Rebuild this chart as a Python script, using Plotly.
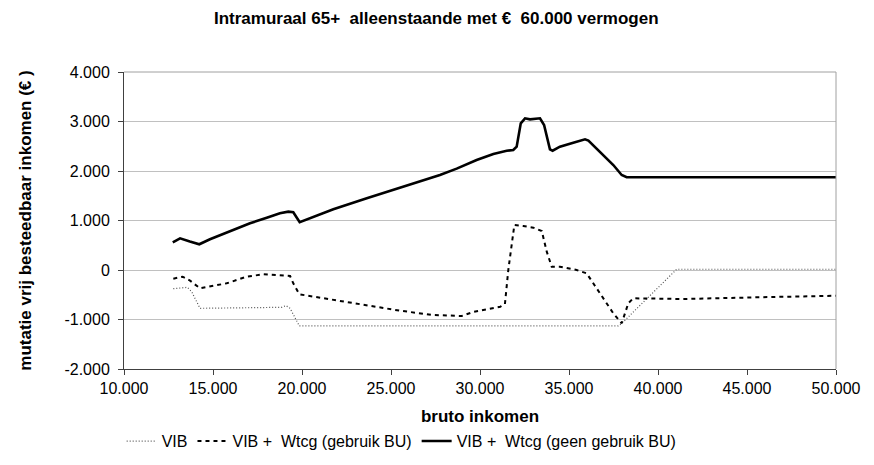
import plotly.graph_objects as go

# --- data ---
vib_x = [12770, 13560, 13800, 14270, 18860, 19100, 19330, 19850, 37770, 37960, 41050, 50000]
vib_y = [-377, -350, -438, -774, -754, -720, -774, -1130, -1130, -1080, 15, 15]

bu_x = [12770, 13300, 13710, 14270, 15770, 16890, 17830, 18580, 19330, 19510, 19850, 25500,
        27380, 28970, 29620, 31140, 31400, 31590, 31930, 32430, 33000, 33470, 33750, 34030,
        34490, 35430, 35990, 36740, 37490, 37960, 38330, 38610, 41420, 45550, 50000]
bu_y = [-175, -135, -215, -370, -269, -135, -87, -101, -121, -269, -491, -822,
        -909, -929, -848, -741, -687, 0, 909, 889, 855, 788, 370, 67,
        67, 0, -67, -471, -875, -1077, -673, -572, -586, -552, -520]

geen_x = [12740, 13150, 13700, 14230, 14830, 16140, 17080, 18020, 18760, 19230, 19510, 19870,
          20640, 21760, 23640, 25500, 26630, 27750, 28690, 29810, 30750, 31500, 31870, 32060,
          32290, 32530, 32810, 33370, 33600, 33930, 34080, 34490, 35240, 35900, 36090, 36740,
          37490, 37960, 38240, 50000]
geen_y = [560, 640, 575, 520, 620, 808, 943, 1057, 1145, 1178, 1165, 965,
          1077, 1226, 1448, 1665, 1785, 1919, 2047, 2222, 2343, 2410, 2424, 2491,
          2963, 3064, 3044, 3064, 2929, 2438, 2410, 2491, 2572, 2640, 2613, 2390,
          2121, 1919, 1875, 1875]

x_ticks = [10000, 15000, 20000, 25000, 30000, 35000, 40000, 45000, 50000]
x_ticktext = ["10.000", "15.000", "20.000", "25.000", "30.000", "35.000", "40.000", "45.000", "50.000"]
y_ticks = [-2000, -1000, 0, 1000, 2000, 3000, 4000]
y_ticktext = ["-2.000", "-1.000", "0", "1.000", "2.000", "3.000", "4.000"]

FONT = "Liberation Sans, Arial, sans-serif"

fig = go.Figure()
fig.add_trace(go.Scatter(x=vib_x, y=vib_y, mode="lines", name="VIB",
                         line=dict(color="#555555", width=1.2, dash="1px,2px")))
fig.add_trace(go.Scatter(x=bu_x, y=bu_y, mode="lines", name="VIB +  Wtcg (gebruik BU)",
                         line=dict(color="#000000", width=2, dash="4px,4px")))
fig.add_trace(go.Scatter(x=geen_x, y=geen_y, mode="lines", name="VIB +  Wtcg (geen gebruik BU)",
                         line=dict(color="#000000", width=2.6)))

fig.update_layout(
    width=874, height=465,
    margin=dict(l=116, r=46, t=64, b=104),
    paper_bgcolor="white", plot_bgcolor="white",
    font=dict(family=FONT, size=15, color="#000000"),
    title=dict(text="<b>Intramuraal 65+  alleenstaande met €  60.000 vermogen</b>",
               x=0.49, xanchor="center", y=0.978, yanchor="middle",
               font=dict(family=FONT, size=17)),
    showlegend=True,
    legend=dict(orientation="h", x=0.39, xanchor="center", y=-0.243, yanchor="middle",
                font=dict(family=FONT, size=16), itemwidth=30, tracegroupgap=0,
                bgcolor="rgba(0,0,0,0)"),
    xaxis=dict(range=[10000, 50000], tickvals=x_ticks, ticktext=x_ticktext,
               showgrid=False, zeroline=False, showline=True, linecolor="#404040", linewidth=1,
               ticks="outside", ticklen=5, tickcolor="#404040",
               mirror=False,
               title=dict(text="<b>bruto inkomen</b>", standoff=13, font=dict(family=FONT, size=17)),
               tickfont=dict(family=FONT, size=16)),
    yaxis=dict(range=[-2000, 4000], tickvals=y_ticks, ticktext=y_ticktext,
               showgrid=True, gridcolor="#c0c0c0", gridwidth=1, zeroline=False,
               showline=True, linecolor="#404040", linewidth=1,
               ticks="outside", ticklen=5, tickcolor="#404040",
               ticklabelstandoff=5,
               title=dict(text="<b>mutatie vrij besteedbaar inkomen (€ )</b>", standoff=28,
                          font=dict(family=FONT, size=17)),
               tickfont=dict(family=FONT, size=16)),
)

# top and right border of plot area (gray)
fig.add_shape(type="line", xref="paper", yref="paper", x0=0, x1=1, y0=1, y1=1,
              line=dict(color="#a0a0a0", width=1))
fig.add_shape(type="line", xref="paper", yref="paper", x0=1, x1=1, y0=0, y1=1,
              line=dict(color="#a0a0a0", width=1))

fig.write_html("out.html")
